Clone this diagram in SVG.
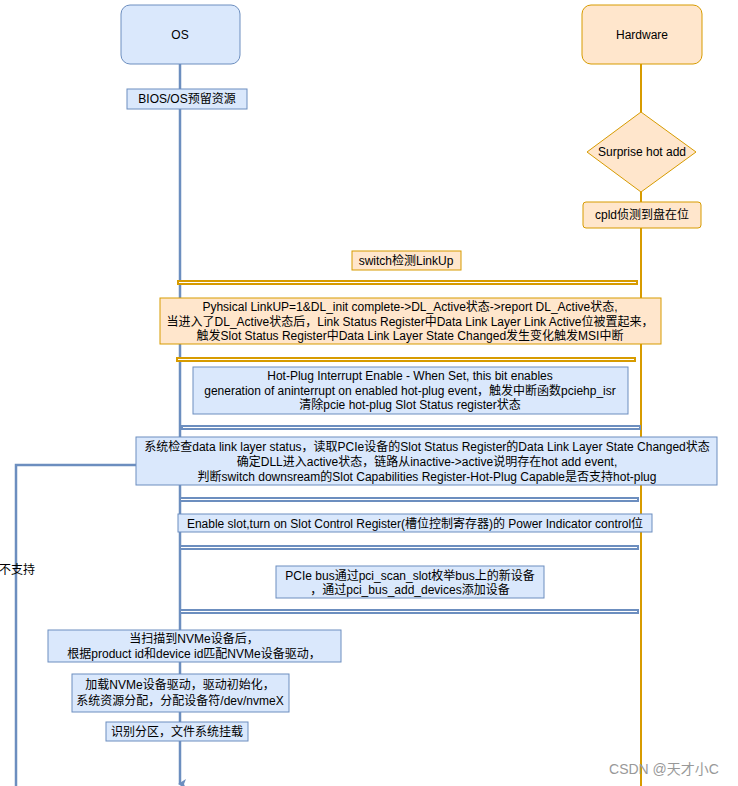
<svg xmlns="http://www.w3.org/2000/svg" width="738" height="786" viewBox="0 0 738 786">
<style>
text{font-family:"Liberation Sans","Noto Sans CJK SC",sans-serif;font-size:12px;fill:#000;text-anchor:middle}
.b{fill:#dae8fc;stroke:#6c8ebf;stroke-width:1}
.o{fill:#ffe6cc;stroke:#d79b00;stroke-width:1}
.bb{fill:#fff;stroke:#6c8ebf;stroke-width:2}
.ob{fill:#fff;stroke:#d79b00;stroke-width:2}
</style>
<defs>
<marker id="arr" markerWidth="10" markerHeight="10" refX="5" refY="8" orient="auto" markerUnits="userSpaceOnUse"><path d="M0,2 L5,4 L10,2 L5,10 Z" fill="#6c8ebf"/></marker>
</defs>
<rect width="738" height="786" fill="#fff"/>
<g id="connectors">
<line x1="180" y1="64" x2="180" y2="784" stroke="#6c8ebf" stroke-width="2.5" marker-end="url(#arr)"/>
<line x1="641" y1="64" x2="641" y2="786" stroke="#d79b00" stroke-width="2"/>
<polyline points="136,465 16,465 16,786" fill="none" stroke="#6c8ebf" stroke-width="2.5"/>
<rect class="ob" x="178" y="281" width="459" height="3"/>
<rect class="ob" x="177" y="358" width="458" height="3"/>
<rect class="bb" x="182" y="426" width="458" height="3"/>
<rect class="bb" x="180" y="498" width="458" height="3"/>
<rect class="bb" x="180" y="546" width="458" height="3"/>
<rect class="bb" x="180" y="610" width="458" height="3"/>
<text x="17" y="574">不支持</text>
</g>
<g id="os"><rect class="b" x="121" y="5" width="119" height="59" rx="9"/><text x="180" y="39">OS</text></g>
<g id="hardware"><rect class="o" x="582" y="5" width="120" height="59" rx="9"/><text x="642" y="39">Hardware</text></g>
<g id="bios"><rect class="b" x="127" y="89" width="120" height="20"/><text x="187" y="103">BIOS/OS预留资源</text></g>
<g id="surprise"><polygon class="o" points="641,112 696,152 641,192 587,152"/><text x="642" y="156">Surprise hot add</text></g>
<g id="cpld"><rect class="o" x="583" y="202" width="118" height="26" rx="3"/><text x="642" y="219">cpld侦测到盘在位</text></g>
<g id="switch"><rect class="o" x="352" y="251" width="109" height="19"/><text x="406" y="265">switch检测LinkUp</text></g>
<g id="physical"><rect class="o" x="160" y="298" width="501" height="46"/>
<text x="410" y="311">Pyhsical LinkUP=1&amp;DL_init complete-&gt;DL_Active状态-&gt;report DL_Active状态,</text>
<text x="410" y="326">当进入了DL_Active状态后，Link Status Register中Data Link Layer Link Active位被置起来，</text>
<text x="410" y="340">触发Slot Status Register中Data Link Layer State Changed发生变化触发MSI中断</text></g>
<g id="hotplug"><rect class="b" x="193" y="367" width="435" height="47"/>
<text x="410" y="380">Hot-Plug Interrupt Enable - When Set, this bit enables</text>
<text x="410" y="395">generation of aninterrupt on enabled hot-plug event，触发中断函数pciehp_isr</text>
<text x="410" y="409">清除pcie hot-plug Slot Status register状态</text></g>
<g id="check"><rect class="b" x="136" y="437" width="581" height="48"/>
<text x="427" y="451">系统检查data link layer status，读取PCIe设备的Slot Status Register的Data Link Layer State Changed状态</text>
<text x="427" y="466">确定DLL进入active状态，链路从inactive-&gt;active说明存在hot add event,</text>
<text x="427" y="481">判断switch downsream的Slot Capabilities Register-Hot-Plug Capable是否支持hot-plug</text></g>
<g id="enable"><rect class="b" x="178" y="514" width="474" height="18"/><text x="415" y="528">Enable slot,turn on Slot Control Register(槽位控制寄存器)的 Power Indicator control位</text></g>
<g id="scan"><rect class="b" x="276" y="566" width="268" height="32"/>
<text x="410" y="580">PCIe bus通过pci_scan_slot枚举bus上的新设备</text>
<text x="410" y="594">，通过pci_bus_add_devices添加设备</text></g>
<g id="nvme"><rect class="b" x="48" y="630" width="293" height="32"/>
<text x="194" y="643">当扫描到NVMe设备后，</text>
<text x="194" y="658">根据product id和device id匹配NVMe设备驱动，</text></g>
<g id="load"><rect class="b" x="72" y="674" width="217" height="38"/>
<text x="180" y="689">加载NVMe设备驱动，驱动初始化，</text>
<text x="180" y="705">系统资源分配，分配设备符/dev/nvmeX</text></g>
<g id="mount"><rect class="b" x="106" y="722" width="142" height="19"/><text x="177" y="736">识别分区，文件系统挂载</text></g>
<text x="664" y="774" style="font-size:14px;fill:#999">CSDN @天才小C</text>
</svg>
